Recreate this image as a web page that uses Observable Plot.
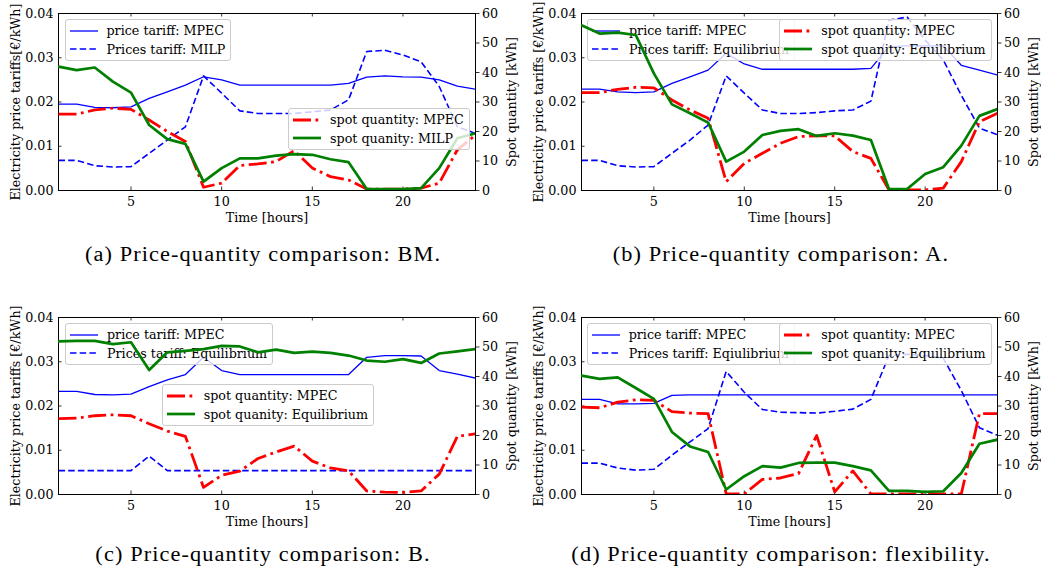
<!DOCTYPE html>
<html><head><meta charset="utf-8">
<script src="https://cdn.jsdelivr.net/npm/d3@7"></script>
<script src="https://cdn.jsdelivr.net/npm/@observablehq/plot@0.6"></script>
<style>
body{margin:0;background:#fff;}
#root{position:relative;width:1041px;height:571px;overflow:hidden;background:#fff;}
.layer{position:absolute;}
.legend{position:absolute;background:rgba(255,255,255,0.8);border:1px solid #cccccc;border-radius:3px;padding:1px 5px 2px 4px;font:12.7px "DejaVu Serif";color:#000;white-space:nowrap;}
.row{height:18.5px;display:flex;align-items:center;}
.row svg{margin-right:9px;flex:none;}
.caption{position:absolute;font-family:"Liberation Serif",serif;font-size:20px;letter-spacing:1px;color:#000;white-space:nowrap;transform:translate(-50%,-50%) scaleX(1.115);}
</style></head>
<body><div id="root"></div>
<script>
// ---------- data ----------
const hours = [1,2,3,4,5,6,7,8,9,10,11,12,13,14,15,16,17,18,19,20,21,22,23,24];
const xTicks = [5,10,15,20];
const priceTicks = [0,0.01,0.02,0.03,0.04];
const qtyTicks = [0,10,20,30,40,50,60];

// (a) BM
const aPriceMPEC = [0.0195,0.0195,0.0188,0.0187,0.0189,0.0208,0.0223,0.0238,0.0257,0.0250,0.0238,0.0238,0.0238,0.0238,0.0238,0.0238,0.0242,0.0256,0.0259,0.0257,0.0256,0.0250,0.0236,0.0229];
const aPriceMILP = [0.0068,0.0068,0.0056,0.0053,0.0054,0.0084,0.0114,0.0144,0.0259,0.0220,0.0180,0.0174,0.0174,0.0174,0.0178,0.0182,0.0205,0.0314,0.0317,0.0306,0.0291,0.0235,0.0144,0.0129];
const aQtyMPEC = [25.9,25.9,27.3,27.9,27.5,23.9,20.0,16.6,1.1,2.5,8.5,9.0,9.8,13.5,7.6,4.7,3.6,0.5,0.5,0.5,0.8,2.5,13.8,18.8];
const aQtyMILP = [42.0,40.8,41.7,36.9,33.2,22.2,17.4,15.8,3.0,7.6,10.9,10.9,11.8,12.3,12.1,10.6,9.6,0.5,0.5,0.5,0.8,7.6,17.7,19.4];

// (b) A
const bPriceMPEC = [0.0229,0.0229,0.0223,0.0221,0.0223,0.0242,0.0257,0.0272,0.0310,0.0286,0.0274,0.0274,0.0274,0.0274,0.0274,0.0274,0.0276,0.0325,0.0327,0.0327,0.0327,0.0283,0.0272,0.0261];
const bPriceEq = [0.0068,0.0068,0.0056,0.0053,0.0054,0.0084,0.0114,0.0148,0.0259,0.0220,0.0182,0.0174,0.0174,0.0176,0.0180,0.0182,0.0202,0.0385,0.0392,0.0340,0.0295,0.0215,0.0141,0.0126];
const bQtyMPEC = [33.2,33.2,34.3,35.0,34.8,30.7,27.3,24.5,3.0,9.2,12.6,16.0,18.3,18.5,18.5,13.2,10.9,0.2,0.2,0.2,0.8,9.8,23.3,26.2];
const bQtyEq = [56.0,53.2,53.5,52.7,39.7,29.2,26.2,23.0,9.8,13.2,18.8,20.2,20.8,18.5,19.4,18.6,17.1,0.5,0.5,5.6,7.9,15.2,25.3,27.6];

// (c) B
const cPriceMPEC = [0.0233,0.0233,0.0226,0.0225,0.0227,0.0244,0.0259,0.0271,0.0310,0.0280,0.0271,0.0271,0.0271,0.0271,0.0271,0.0271,0.0271,0.0310,0.0314,0.0314,0.0313,0.0280,0.0272,0.0263];
const cPriceEq = [0.0054,0.0054,0.0054,0.0054,0.0054,0.0087,0.0054,0.0054,0.0054,0.0054,0.0054,0.0054,0.0054,0.0054,0.0054,0.0054,0.0054,0.0054,0.0054,0.0054,0.0054,0.0054,0.0054,0.0054];
const cQtyMPEC = [25.7,25.9,26.7,27.0,26.7,24.0,21.5,19.7,2.4,6.5,7.9,12.2,14.4,16.4,11.3,9.0,8.0,1.2,0.8,0.7,1.2,6.9,19.7,20.6];
const cQtyEq = [51.9,52.1,52.1,51.0,51.6,42.2,48.2,48.7,49.3,50.4,50.2,48.2,49.1,48.0,48.4,48.0,47.1,45.4,45.0,45.9,44.6,47.8,48.5,49.3];

// (d) flexibility
const dPriceMPEC = [0.0215,0.0215,0.0205,0.0205,0.0206,0.0224,0.0225,0.0225,0.0225,0.0225,0.0225,0.0225,0.0225,0.0225,0.0225,0.0225,0.0225,0.0225,0.0225,0.0225,0.0225,0.0225,0.0225,0.0225];
const dPriceEq = [0.0071,0.0071,0.0060,0.0055,0.0057,0.0089,0.0119,0.0149,0.0278,0.0231,0.0192,0.0186,0.0185,0.0184,0.0188,0.0193,0.0215,0.0314,0.0317,0.0314,0.0308,0.0235,0.0151,0.0134];
const dQtyMPEC = [29.6,29.4,31.3,32.1,31.9,28.1,27.6,27.4,0.2,0.2,5.1,5.6,7.1,20.0,0.9,8.0,0.2,0.2,0.2,0.2,0.2,0.2,27.4,27.4];
const dQtyEq = [40.3,39.2,39.7,36.1,32.4,21.2,16.3,14.4,1.7,6.2,9.6,9.1,10.7,10.8,10.8,9.6,8.2,1.2,1.2,0.9,1.1,7.3,17.2,18.6];

const xLabel = "Time [hours]";
const y2Label = "Spot quantity [kWh]";
const captions = ["(a) Price-quantity comparison: BM.","(b) Price-quantity comparison: A.","(c) Price-quantity comparison: B.","(d) Price-quantity comparison: flexibility."];

// ---------- styles ----------
const K = 0.04 / 60; // quantity (kWh) -> left price axis
const BLUE = "#0000ff", RED = "#ff0000", GREEN = "#008000";
const S = {
  p1: {stroke: BLUE, strokeWidth: 1.3},
  p2: {stroke: BLUE, strokeWidth: 1.6, strokeDasharray: "6.5,3.2", strokeLinecap: "butt"},
  q1: {stroke: RED, strokeWidth: 2.8, strokeDasharray: "18,4.5,2.8,4.5", strokeLinecap: "butt"},
  q2: {stroke: GREEN, strokeWidth: 2.7}
};
const FS = 12.7;

const root = document.getElementById("root");
const H = 230, mT = 13, mB = 40;

function legend(items, x, y) {
  const div = document.createElement("div");
  div.className = "legend";
  div.style.left = x + "px"; div.style.top = y + "px";
  for (const [label, st] of items) {
    const row = document.createElement("div"); row.className = "row";
    const ns = "http://www.w3.org/2000/svg";
    const svg = document.createElementNS(ns, "svg");
    svg.setAttribute("width", 28); svg.setAttribute("height", 10);
    const ln = document.createElementNS(ns, "line");
    ln.setAttribute("x1", 0); ln.setAttribute("x2", 28); ln.setAttribute("y1", 5); ln.setAttribute("y2", 5);
    ln.setAttribute("stroke", st.stroke); ln.setAttribute("stroke-width", st.strokeWidth);
    if (st.strokeDasharray) ln.setAttribute("stroke-dasharray", st.strokeDasharray);
    ln.setAttribute("stroke-linecap", "butt");
    svg.appendChild(ln); row.appendChild(svg);
    const t = document.createElement("span"); t.textContent = label; row.appendChild(t);
    div.appendChild(row);
  }
  root.appendChild(div);
}

function panel(cfg) {
  const {left, top, width, mL, mR, p1, p2, q1, q2, yLabel, l1, l2, l1Pos, l2Pos} = cfg;
  const fw = width - mL - mR, fh = H - mT - mB;
  const rows = hours.map((h, i) => ({h, p1: p1[i], p2: p2[i], q1: q1[i] * K, q2: q2[i] * K}));
  const common = {width, height: H, marginLeft: mL, marginRight: mR, marginTop: mT, marginBottom: mB,
    x: {type: "linear", domain: [1, 24]}, y: {type: "linear", domain: [0, 0.04]}};
  const A = Plot.plot({...common,
    style: {fontFamily: "DejaVu Serif", fontSize: FS + "px", color: "#000", background: "transparent", overflow: "visible"},
    marks: [
      Plot.line(rows, {x: "h", y: "p1", ...S.p1, clip: true}),
      Plot.line(rows, {x: "h", y: "p2", ...S.p2, clip: true}),
      Plot.frame({stroke: "#000", strokeWidth: 1}),
      Plot.tickY(priceTicks, {y: d => d, insetRight: fw - 3.5, stroke: "#000", strokeWidth: 0.8}),
      Plot.tickX(xTicks, {x: d => d, insetTop: fh - 3.5, stroke: "#000", strokeWidth: 0.8}),
      Plot.tickX(xTicks, {x: d => d, insetBottom: fh - 3.5, stroke: "#000", strokeWidth: 0.8}),
      Plot.axisX(xTicks, {anchor: "bottom", tickSize: 0, tickPadding: 6, label: null}),
      Plot.axisY(priceTicks, {anchor: "left", tickSize: 0, tickPadding: 5, tickFormat: d => d.toFixed(2), label: null}),
      Plot.axisY(qtyTicks.map(v => v * K), {anchor: "right", tickSize: 3.5, tickPadding: 3, tickFormat: d => String(Math.round(d / K)), label: null, strokeWidth: 0.8}),
      Plot.text([xLabel], {text: d => d, frameAnchor: "bottom", textAnchor: "middle", lineAnchor: "middle", dy: 27, fontSize: FS}),
      Plot.text([yLabel], {text: d => d, frameAnchor: "left", textAnchor: "middle", lineAnchor: "middle", rotate: -90, dx: -43, fontSize: FS}),
      Plot.text([y2Label], {text: d => d, frameAnchor: "right", textAnchor: "middle", lineAnchor: "middle", rotate: -90, dx: 36, fontSize: FS})
    ]
  });
  A.classList.add("layer"); A.style.left = left + "px"; A.style.top = top + "px";
  root.appendChild(A);
  legend(l1, l1Pos[0], l1Pos[1]);
  const B = Plot.plot({...common, axis: null,
    style: {background: "transparent", overflow: "visible"},
    marks: [
      Plot.line(rows, {x: "h", y: "q1", ...S.q1, clip: true}),
      Plot.line(rows, {x: "h", y: "q2", ...S.q2, clip: true})
    ]
  });
  B.classList.add("layer"); B.style.left = left + "px"; B.style.top = top + "px";
  root.appendChild(B);
  legend(l2, l2Pos[0], l2Pos[1]);
}

panel({left: 0, top: 0, width: 520, mL: 58, mR: 45, p1: aPriceMPEC, p2: aPriceMILP, q1: aQtyMPEC, q2: aQtyMILP,
  yLabel: "Electricity price tariffs[€/kWh]",
  l1: [["price tariff: MPEC", S.p1], ["Prices tariff: MILP", S.p2]],
  l2: [["spot quantity: MPEC", S.q1], ["spot quanity: MILP", S.q2]],
  l1Pos: [64.5, 19.3], l2Pos: [288, 108.3]});
panel({left: 520, top: 0, width: 521, mL: 61, mR: 44, p1: bPriceMPEC, p2: bPriceEq, q1: bQtyMPEC, q2: bQtyEq,
  yLabel: "Electricity price tariffs [€/kWh]",
  l1: [["price tariff: MPEC", S.p1], ["Prices tariff: Equilibrium", S.p2]],
  l2: [["spot quantity: MPEC", S.q1], ["spot quanity: Equilibrium", S.q2]],
  l1Pos: [587, 19.3], l2Pos: [779.3, 19.3]});
panel({left: 0, top: 304, width: 520, mL: 58, mR: 45, p1: cPriceMPEC, p2: cPriceEq, q1: cQtyMPEC, q2: cQtyEq,
  yLabel: "Electricity price tariffs [€/kWh]",
  l1: [["price tariff: MPEC", S.p1], ["Prices tariff: Equilibrium", S.p2]],
  l2: [["spot quantity: MPEC", S.q1], ["spot quanity: Equilibrium", S.q2]],
  l1Pos: [65, 323.3], l2Pos: [161.7, 384.3]});
panel({left: 520, top: 304, width: 521, mL: 61, mR: 44, p1: dPriceMPEC, p2: dPriceEq, q1: dQtyMPEC, q2: dQtyEq,
  yLabel: "Electricity price tariffs [€/kWh]",
  l1: [["price tariff: MPEC", S.p1], ["Prices tariff: Eqiulibrium", S.p2]],
  l2: [["spot quantity: MPEC", S.q1], ["spot quanity: Equilibrium", S.q2]],
  l1Pos: [586.7, 323.3], l2Pos: [779.3, 323.3]});

const capPos = [[263, 254], [781, 254], [263, 554], [781, 554]];
captions.forEach((c, i) => {
  const d = document.createElement("div"); d.className = "caption"; d.textContent = c;
  d.style.left = capPos[i][0] + "px"; d.style.top = capPos[i][1] + "px";
  root.appendChild(d);
});
</script>
</body></html>
